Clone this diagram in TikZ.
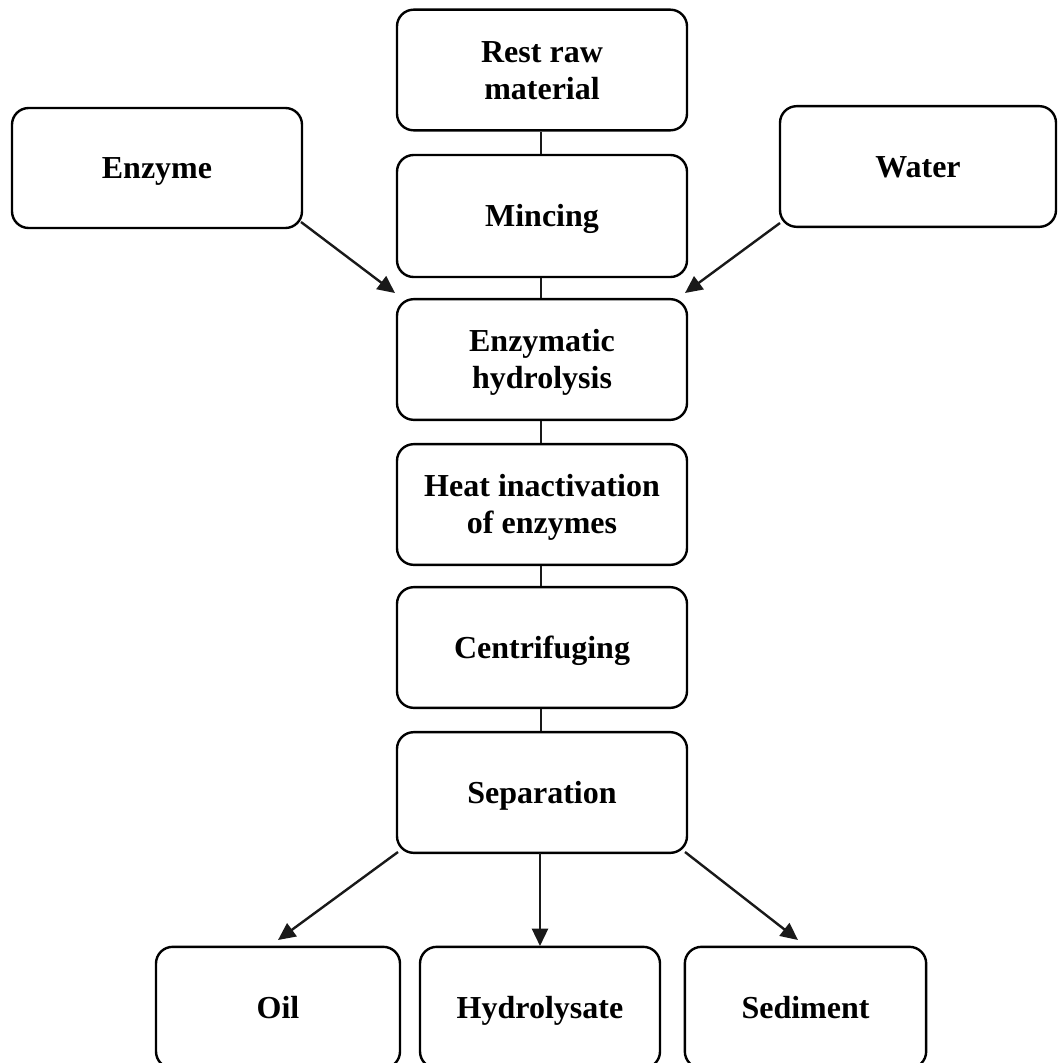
\documentclass[tikz,border=0pt]{standalone}
\usepackage{fontspec}
\setmainfont{Liberation Serif}
\usetikzlibrary{arrows.meta}
\begin{document}
\begin{tikzpicture}[x=0.75pt,y=-0.75pt,
  box/.style={draw=black,line width=1.8pt,rounded corners=12.5pt,align=center,
    font=\fontsize{24}{27.5}\selectfont\bfseries,inner sep=0pt,
    text height=16pt,text depth=0pt},
  two/.style={text height=43.5pt,text depth=0pt},
  mainbox/.style={box,minimum width=217.5pt,minimum height=90.5pt},
  link/.style={line width=1.8pt,draw=black!90},
  arr/.style={link,-{Triangle[length=13pt,width=12pt]}}]
\useasboundingbox (0,0) rectangle (1058,1063);
\node[mainbox,two] (rest) at (542,70) {Rest raw\\material};
\node[mainbox,minimum height=91.5pt] (minc) at (542,216) {Mincing};
\node[mainbox,two] (hydro) at (542,359.5) {Enzymatic\\hydrolysis};
\node[mainbox,two] (heat) at (542,504.5) {Heat inactivation\\of enzymes};
\node[mainbox] (centr) at (542,647.5) {Centrifuging};
\node[mainbox] (sep) at (542,792.5) {Separation};
\node[box,minimum width=217.5pt,minimum height=90pt] (enz) at (157,168) {Enzyme};
\node[box,minimum width=207pt,minimum height=90.5pt] (wat) at (918,166.5) {Water};
\node[box,minimum width=183pt,minimum height=91pt] (oil) at (278,1007.5) {Oil};
\node[box,minimum width=180pt,minimum height=91pt] (hyd) at (540,1007.5) {Hydrolysate};
\node[box,minimum width=181pt,minimum height=91pt] (sed) at (805.5,1007.5) {Sediment};
\coordinate (e1) at (301,222);
\coordinate (e2) at (395,293);
\coordinate (w1) at (780,223);
\coordinate (w2) at (685,293);
\coordinate (o1) at (398,852);
\coordinate (o2) at (278,940);
\coordinate (s1) at (685,852);
\coordinate (s2) at (798,940);
\coordinate (h1) at (540,853);
\coordinate (h2) at (540,946);
\draw[link] (rest.south -| 541,0) -- (minc.north -| 541,0);
\draw[link] (minc.south -| 541,0) -- (hydro.north -| 541,0);
\draw[link] (hydro.south -| 541,0) -- (heat.north -| 541,0);
\draw[link] (heat.south -| 541,0) -- (centr.north -| 541,0);
\draw[link] (centr.south -| 541,0) -- (sep.north -| 541,0);
\draw[arr] (e1) -- (e2);
\draw[arr] (w1) -- (w2);
\draw[arr] (o1) -- (o2);
\draw[arr] (h1) -- (h2);
\draw[arr] (s1) -- (s2);
\end{tikzpicture}
\end{document}
